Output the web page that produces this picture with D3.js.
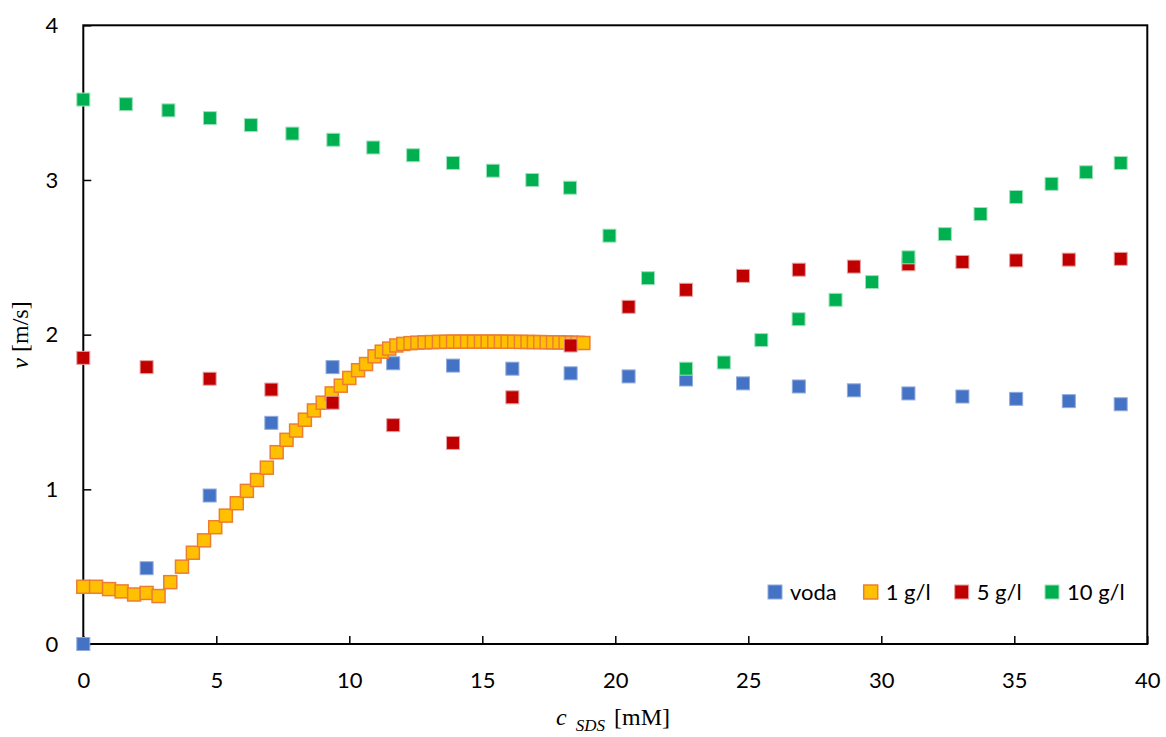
<!DOCTYPE html>
<html>
<head>
<meta charset="utf-8">
<script src="https://cdn.jsdelivr.net/npm/d3@7"></script>
<style>
  body { margin: 0; background: #fff; }
  svg { display: block; }
</style>
</head>
<body>
<svg id="chart"></svg>
<script>
// voda + 5 g/l share the same concentrations
const xVoda = [0, 2.38, 4.75, 7.07, 9.37, 11.65, 13.9, 16.13, 18.32, 20.5, 22.66, 24.8, 26.9, 28.97, 31.02, 33.05, 35.07, 37.05, 39.0];
const yVoda = [0, 0.49, 0.96, 1.43, 1.79, 1.815, 1.80, 1.78, 1.75, 1.73, 1.71, 1.685, 1.665, 1.64, 1.62, 1.60, 1.585, 1.57, 1.55];
const y5gl = [1.85, 1.79, 1.715, 1.645, 1.56, 1.415, 1.30, 1.595, 1.93, 2.18, 2.29, 2.38, 2.42, 2.44, 2.455, 2.47, 2.48, 2.485, 2.49];

const x1gl = [0, 0.48, 0.97, 1.44, 1.91, 2.38, 2.83, 3.27, 3.71, 4.12, 4.54, 4.96, 5.36, 5.77, 6.15, 6.53, 6.9, 7.27, 7.64, 8.0,
  8.33, 8.67, 9.0, 9.34, 9.68, 10.0, 10.33, 10.63, 10.95, 11.22, 11.5, 11.77, 12.03, 12.3, 12.56, 12.83, 13.1, 13.37, 13.64,
  13.9, 14.17, 14.43, 14.69, 14.95, 15.2, 15.45, 15.7, 15.95, 16.2, 16.45, 16.7, 16.94, 17.18, 17.42, 17.66, 17.9, 18.13, 18.36, 18.58, 18.8];
const y1gl = [0.37, 0.37, 0.355, 0.34, 0.32, 0.33, 0.31, 0.40, 0.50, 0.59, 0.67, 0.755, 0.83, 0.91, 0.99, 1.06, 1.14, 1.24, 1.32, 1.38,
  1.45, 1.51, 1.56, 1.62, 1.67, 1.72, 1.77, 1.81, 1.86, 1.89, 1.91, 1.93, 1.94, 1.945, 1.948, 1.95, 1.952, 1.953, 1.954,
  1.955, 1.955, 1.955, 1.955, 1.955, 1.955, 1.955, 1.955, 1.954, 1.954, 1.953, 1.953, 1.952, 1.952, 1.951, 1.95, 1.95, 1.949, 1.948, 1.947, 1.946];

const x10gl = [0, 1.6, 3.2, 4.76, 6.3, 7.86, 9.4, 10.9, 12.4, 13.9, 15.4, 16.88, 18.3, 19.78, 21.23, 22.66, 24.08, 25.49, 26.89,
  28.28, 29.65, 31.02, 32.39, 33.73, 35.07, 36.4, 37.7, 39.0];
const y10gl = [3.52, 3.49, 3.45, 3.40, 3.355, 3.30, 3.26, 3.21, 3.16, 3.11, 3.06, 3.00, 2.95, 2.64, 2.365, 1.78, 1.82, 1.965, 2.10,
  2.225, 2.34, 2.50, 2.65, 2.78, 2.89, 2.975, 3.05, 3.11];

const seriesNames = ["voda", "1 g/l", "5 g/l", "10 g/l"];
const xTicks = [0, 5, 10, 15, 20, 25, 30, 35, 40];
const yTicks = [0, 1, 2, 3, 4];

const width = 1166, height = 737;
const margin = { top: 25.3, right: 18.7, bottom: 93, left: 83.3 };

const series = [
  { name: seriesNames[0], xs: xVoda, ys: yVoda, fill: "#4472C4", stroke: "#8FAADC", sw: 1 },
  { name: seriesNames[1], xs: x1gl, ys: y1gl, fill: "#FFC000", stroke: "#ED7D31", sw: 1.5 },
  { name: seriesNames[2], xs: xVoda, ys: y5gl, fill: "#C00000", stroke: "#E6A0A0", sw: 1 },
  { name: seriesNames[3], xs: x10gl, ys: y10gl, fill: "#00B050", stroke: "#9FE0BC", sw: 1 }
];

const svg = d3.select("#chart").attr("width", width).attr("height", height);

const xScale = d3.scaleLinear().domain([0, 40]).range([margin.left, width - margin.right]);
const yScale = d3.scaleLinear().domain([0, 4]).range([height - margin.bottom, margin.top]);

const tickFont = "Lato, 'Open Sans', sans-serif";

// Axes (ticks inside)
const xAxis = svg.append("g")
  .attr("transform", `translate(0, ${height - margin.bottom})`)
  .call(d3.axisBottom(xScale).tickValues(xTicks).tickFormat(d3.format("d"))
    .tickSizeInner(-8).tickSizeOuter(0).tickPadding(28));
const yAxis = svg.append("g")
  .attr("transform", `translate(${margin.left},0)`)
  .call(d3.axisLeft(yScale).tickValues(yTicks).tickFormat(d3.format("d"))
    .tickSizeInner(-8).tickSizeOuter(0).tickPadding(25));

[xAxis, yAxis].forEach(g => {
  g.select(".domain").remove();
  g.selectAll(".tick line").attr("stroke", "#000").attr("stroke-width", 1.5);
  g.selectAll(".tick text").attr("font-family", tickFont).attr("font-size", 22).attr("fill", "#000");
});

// Plot box
svg.append("rect")
  .attr("x", xScale(0)).attr("y", yScale(4))
  .attr("width", xScale(40) - xScale(0))
  .attr("height", yScale(0) - yScale(4))
  .attr("fill", "none").attr("stroke", "#000").attr("stroke-width", 2);

// Points
const size = 13;
series.forEach(s => {
  svg.append("g").selectAll("rect")
    .data(s.xs.map((x, i) => ({ x: x, y: s.ys[i] })))
    .enter()
    .append("rect")
    .attr("x", d => xScale(d.x) - size / 2)
    .attr("y", d => yScale(d.y) - size / 2)
    .attr("width", size).attr("height", size)
    .attr("fill", s.fill)
    .attr("stroke", s.stroke)
    .attr("stroke-width", s.sw);
});

// Axis titles
const yTitle = svg.append("text")
  .attr("transform", "translate(28, 335) rotate(-90)")
  .attr("text-anchor", "middle")
  .attr("font-family", "'Liberation Serif', 'Times New Roman', serif")
  .attr("font-size", 24);
yTitle.append("tspan").attr("font-style", "italic").text("v");
yTitle.append("tspan").attr("dx", 6).text("[m/s]");

const xTitle = svg.append("text")
  .attr("x", 613).attr("y", 725)
  .attr("text-anchor", "middle")
  .attr("font-family", "'Liberation Serif', 'Times New Roman', serif")
  .attr("font-size", 24);
xTitle.append("tspan").attr("font-style", "italic").text("c");
xTitle.append("tspan").attr("font-style", "italic").attr("font-size", 17).attr("dx", 9).attr("dy", 6).text("SDS");
xTitle.append("tspan").attr("dx", 9).attr("dy", -6).text("[mM]");

// Legend
const legendX = [775, 870.7, 961.7, 1052];
const legend = svg.append("g");
series.forEach((s, i) => {
  legend.append("rect")
    .attr("x", legendX[i] - 7).attr("y", 592 - 7)
    .attr("width", 14).attr("height", 14)
    .attr("fill", s.fill).attr("stroke", s.stroke).attr("stroke-width", s.sw);
  legend.append("text")
    .attr("x", legendX[i] + 15).attr("y", 600)
    .attr("font-family", tickFont).attr("font-size", 22)
    .text(s.name);
});
</script>
</body>
</html>
